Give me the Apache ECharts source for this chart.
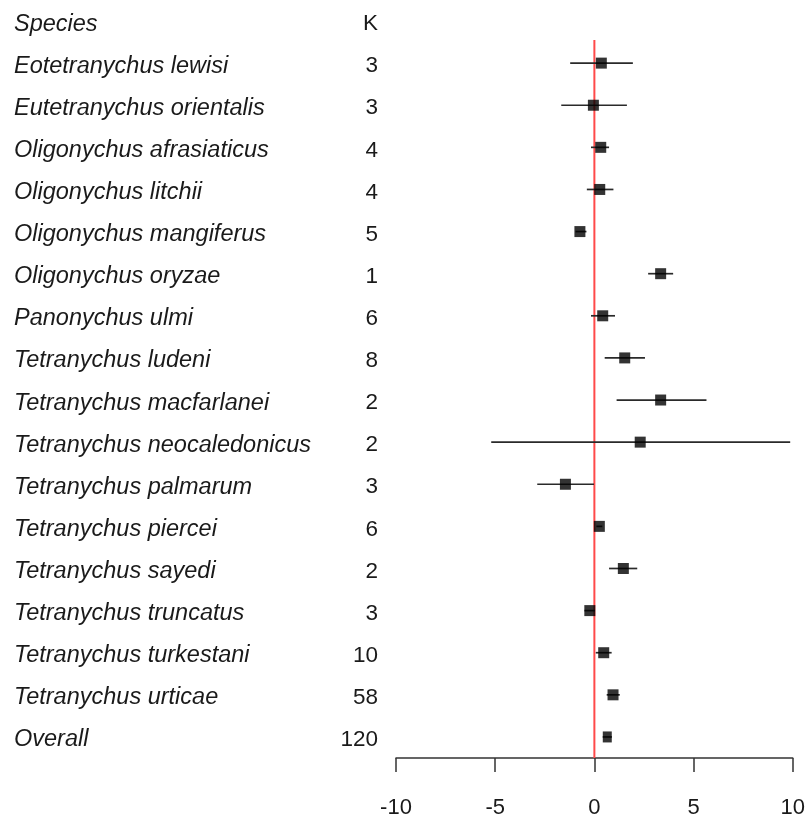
<!DOCTYPE html>
<html>
<head>
<meta charset="utf-8">
<title>Forest plot</title>
<script src="https://cdn.jsdelivr.net/npm/echarts@6/dist/echarts.min.js"></script>
<style>
  html, body { margin: 0; padding: 0; background: #fff; }
  #chart { width: 808px; height: 819px; }
</style>
</head>
<body>
<div id="chart"></div>
<script>
// Study groups, number of effect sizes (K), pooled estimate and 95% CI
const species = [
  'Eotetranychus lewisi', 'Eutetranychus orientalis', 'Oligonychus afrasiaticus',
  'Oligonychus litchii', 'Oligonychus mangiferus', 'Oligonychus oryzae',
  'Panonychus ulmi', 'Tetranychus ludeni', 'Tetranychus macfarlanei',
  'Tetranychus neocaledonicus', 'Tetranychus palmarum', 'Tetranychus piercei',
  'Tetranychus sayedi', 'Tetranychus truncatus', 'Tetranychus turkestani',
  'Tetranychus urticae', 'Overall'
];
const kCounts = [3, 3, 4, 4, 5, 1, 6, 8, 2, 2, 3, 6, 2, 3, 10, 58, 120];
const estimates = [0.35, -0.05, 0.32, 0.27, -0.73, 3.34, 0.42, 1.53, 3.34, 2.31, -1.46, 0.25, 1.46, -0.23, 0.47, 0.94, 0.65];
const ciLower = [-1.22, -1.67, -0.17, -0.38, -0.95, 2.71, -0.17, 0.52, 1.12, -5.2, -2.88, 0.1, 0.74, -0.5, 0.07, 0.62, 0.42];
const ciUpper = [1.94, 1.64, 0.74, 0.96, -0.4, 3.97, 1.04, 2.55, 5.65, 9.87, -0.02, 0.4, 2.16, 0.03, 0.87, 1.28, 0.88];
const xTicks = [-10, -5, 0, 5, 10];
const headers = ['Species', 'K'];

const FONT = '"Liberation Sans", Arial, sans-serif';
const TEXT = '#1a1a1a';

// row 0 holds the column headers, rows 1..17 the groups
const rowData = [[0, headers[0], headers[1]]].concat(
  species.map((s, i) => [i + 1, s, String(kCounts[i])])
);
const ciData = species.map((s, i) => [ciLower[i], ciUpper[i], i + 1]);
const pointData = species.map((s, i) => [estimates[i], i + 1]);

const chart = echarts.init(document.getElementById('chart'), null, { renderer: 'canvas' });

chart.setOption({
  animation: false,
  backgroundColor: '#fff',
  grid: { left: 396, right: 14, top: 21, bottom: 60, containLabel: false },
  xAxis: {
    type: 'value', min: -10, max: 10, interval: 5,
    splitLine: { show: false },
    axisLine: { show: true, onZero: false, lineStyle: { color: '#333', width: 1.5 } },
    axisTick: { show: true, length: 14, lineStyle: { color: '#333', width: 1.5 } },
    axisLabel: {
      margin: 39, fontSize: 22, color: TEXT, fontFamily: FONT,
      customValues: xTicks,
      formatter: v => String(v)
    }
  },
  yAxis: {
    type: 'value', min: 0, max: 17.5, inverse: true, show: false
  },
  series: [
    {
      // reference line at zero effect
      type: 'line',
      data: [[0, 0.45], [0, 17.5]],
      symbol: 'none',
      lineStyle: { color: '#ff4a4a', width: 2 },
      z: 1,
      silent: true
    },
    {
      // confidence intervals
      type: 'custom',
      data: ciData,
      z: 2,
      renderItem: function (params, api) {
        const a = api.coord([api.value(0), api.value(2)]);
        const b = api.coord([api.value(1), api.value(2)]);
        return {
          type: 'line',
          shape: { x1: a[0], y1: a[1], x2: b[0], y2: b[1] },
          style: { stroke: '#2a2a2a', lineWidth: 1.7 }
        };
      }
    },
    {
      // point estimates
      type: 'scatter',
      data: pointData,
      symbol: 'rect',
      symbolSize: function (v, p) { return p.dataIndex === species.length - 1 ? [9, 11] : 11; },
      itemStyle: { color: '#000' },
      z: 3
    },
    {
      // text columns: group name and K
      type: 'custom',
      data: rowData,
      z: 4,
      renderItem: function (params, api) {
        const y = api.coord([0, api.value(0)])[1] + 3;
        return {
          type: 'group',
          children: [
            {
              type: 'text',
              style: {
                x: 14, y: y, text: rowData[params.dataIndex][1],
                fontSize: 23.5, fontStyle: 'italic', fontFamily: FONT,
                fill: TEXT, align: 'left', verticalAlign: 'middle'
              }
            },
            {
              type: 'text',
              style: {
                x: 378, y: y, text: rowData[params.dataIndex][2],
                fontSize: 22.5, fontFamily: FONT,
                fill: TEXT, align: 'right', verticalAlign: 'middle'
              }
            }
          ]
        };
      }
    }
  ]
});
</script>
</body>
</html>
